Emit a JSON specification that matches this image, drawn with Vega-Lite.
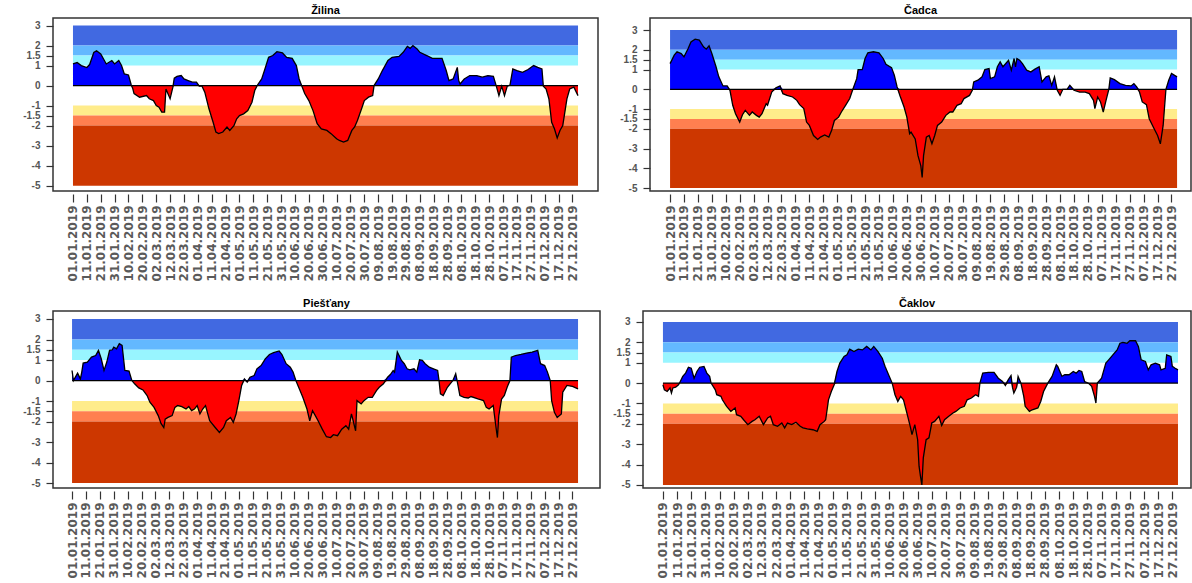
{
"$schema": "https://vega.github.io/schema/vega-lite/v6.json",
"background": "white",
"padding": {"left": 12, "top": 4, "right": 0, "bottom": 0},
"config": {
  "view": {"stroke": "#333", "strokeWidth": 1.5},
  "font": "Liberation Sans",
  "axis": {"grid": false, "domain": false, "tickColor": "#333"},
  "axisX": {"labelExpr": "timeFormat(datetime(2019,0,datum.value),'%d.%m.%Y')", "labelAngle": 270, "labelOverlap": false, "labelFlush": false, "labelBound": false, "labelFont": "DejaVu Sans", "labelFontWeight": "bold", "labelFontSize": 12, "labelColor": "#5a5a5a", "tickSize": 8, "tickWidth": 1.2, "labelPadding": 3, "offset": 3, "title": null, "minExtent": 88, "maxExtent": 88},
  "axisY": {"labelExpr": "'' + datum.value", "labelOverlap": false, "labelFlush": false, "labelBound": false, "tickSize": 7, "tickWidth": 1.2, "labelPadding": 6, "labelFontSize": 10, "labelFontWeight": "bold", "labelColor": "#555", "title": null},
  "title": {"fontSize": 11, "fontWeight": "bold", "color": "#000", "offset": 2, "font": "Liberation Sans", "anchor": "middle"}
},
"datasets": {
"bands": [
 {"cat": "extremely wet", "lo": 2, "hi": 3},
 {"cat": "very wet", "lo": 1.5, "hi": 2},
 {"cat": "moderately wet", "lo": 1, "hi": 1.5},
 {"cat": "moderately dry", "lo": -1.5, "hi": -1},
 {"cat": "severely dry", "lo": -2, "hi": -1.5},
 {"cat": "extremely dry", "lo": -5, "hi": -2}
],
"zilina": [{"d":1,"v":1.08},{"d":4,"v":1.15},{"d":7,"v":1.0},{"d":11,"v":0.9},{"d":13,"v":1.05},{"d":16,"v":1.65},{"d":18,"v":1.74},{"d":21,"v":1.58},{"d":25,"v":1.08},{"d":29,"v":1.25},{"d":31,"v":1.08},{"d":34,"v":1.25},{"d":36,"v":1.0},{"d":38,"v":0.58},{"d":41,"v":0.53},{"d":43,"v":0.03},{"d":44,"v":-0.13},{"d":45,"v":-0.4},{"d":49,"v":-0.58},{"d":54,"v":-0.5},{"d":56,"v":-0.66},{"d":59,"v":-0.75},{"d":61,"v":-1.0},{"d":63,"v":-1.08},{"d":65,"v":-1.33},{"d":67,"v":-1.33},{"d":68,"v":-0.17},{"d":70,"v":-0.5},{"d":71,"v":-0.66},{"d":73,"v":-0.08},{"d":74,"v":0.37},{"d":76,"v":0.46},{"d":79,"v":0.5},{"d":81,"v":0.33},{"d":84,"v":0.25},{"d":87,"v":0.17},{"d":90,"v":0.17},{"d":92,"v":-0.03},{"d":94,"v":-0.03},{"d":96,"v":-0.33},{"d":99,"v":-1.16},{"d":102,"v":-1.83},{"d":104,"v":-2.32},{"d":106,"v":-2.4},{"d":109,"v":-2.32},{"d":112,"v":-2.07},{"d":114,"v":-2.24},{"d":117,"v":-2.0},{"d":119,"v":-1.66},{"d":121,"v":-1.5},{"d":124,"v":-1.41},{"d":127,"v":-1.25},{"d":130,"v":-0.83},{"d":132,"v":-0.25},{"d":134,"v":0.03},{"d":137,"v":0.33},{"d":139,"v":0.75},{"d":142,"v":1.41},{"d":145,"v":1.5},{"d":148,"v":1.69},{"d":152,"v":1.63},{"d":155,"v":1.41},{"d":159,"v":1.36},{"d":162,"v":1.0},{"d":164,"v":0.33},{"d":166,"v":-0.03},{"d":168,"v":-0.4},{"d":171,"v":-0.75},{"d":174,"v":-1.25},{"d":177,"v":-1.9},{"d":180,"v":-2.16},{"d":184,"v":-2.24},{"d":187,"v":-2.4},{"d":191,"v":-2.66},{"d":193,"v":-2.74},{"d":196,"v":-2.82},{"d":199,"v":-2.74},{"d":202,"v":-2.24},{"d":204,"v":-2.07},{"d":206,"v":-1.74},{"d":209,"v":-1.16},{"d":211,"v":-0.75},{"d":214,"v":-0.58},{"d":217,"v":-0.5},{"d":218,"v":0.0},{"d":221,"v":0.33},{"d":224,"v":0.75},{"d":228,"v":1.25},{"d":231,"v":1.41},{"d":236,"v":1.46},{"d":239,"v":1.66},{"d":242,"v":1.96},{"d":244,"v":1.86},{"d":246,"v":2.0},{"d":249,"v":1.83},{"d":251,"v":1.66},{"d":256,"v":1.5},{"d":260,"v":1.36},{"d":265,"v":1.36},{"d":267,"v":1.36},{"d":270,"v":0.75},{"d":272,"v":0.25},{"d":275,"v":0.33},{"d":278,"v":0.91},{"d":279,"v":0.25},{"d":280,"v":0.08},{"d":283,"v":0.33},{"d":287,"v":0.5},{"d":292,"v":0.5},{"d":296,"v":0.42},{"d":300,"v":0.5},{"d":304,"v":0.46},{"d":306,"v":0.0},{"d":308,"v":-0.5},{"d":310,"v":-0.03},{"d":312,"v":-0.5},{"d":314,"v":-0.03},{"d":316,"v":0.03},{"d":318,"v":0.83},{"d":321,"v":0.75},{"d":325,"v":0.66},{"d":329,"v":0.8},{"d":333,"v":1.0},{"d":336,"v":0.91},{"d":339,"v":0.83},{"d":340,"v":-0.03},{"d":342,"v":-0.17},{"d":344,"v":-0.66},{"d":346,"v":-1.83},{"d":348,"v":-2.16},{"d":350,"v":-2.62},{"d":352,"v":-2.24},{"d":354,"v":-2.0},{"d":357,"v":-0.66},{"d":359,"v":-0.17},{"d":362,"v":-0.08},{"d":365,"v":-0.5}],
"cadca": [{"d":1,"v":1.3},{"d":4,"v":1.73},{"d":6,"v":1.9},{"d":9,"v":1.81},{"d":11,"v":1.64},{"d":14,"v":2.07},{"d":16,"v":2.4},{"d":19,"v":2.54},{"d":22,"v":2.49},{"d":25,"v":2.15},{"d":27,"v":2.03},{"d":29,"v":2.2},{"d":31,"v":1.81},{"d":34,"v":1.14},{"d":36,"v":0.63},{"d":39,"v":0.17},{"d":42,"v":0.17},{"d":44,"v":-0.05},{"d":46,"v":-0.81},{"d":48,"v":-1.24},{"d":51,"v":-1.66},{"d":53,"v":-1.29},{"d":55,"v":-1.07},{"d":58,"v":-1.32},{"d":60,"v":-1.15},{"d":63,"v":-1.32},{"d":65,"v":-1.41},{"d":67,"v":-1.24},{"d":70,"v":-0.73},{"d":71,"v":-0.81},{"d":74,"v":-0.14},{"d":77,"v":0.07},{"d":80,"v":0.17},{"d":82,"v":-0.22},{"d":85,"v":-0.31},{"d":89,"v":-0.39},{"d":92,"v":-0.56},{"d":94,"v":-0.78},{"d":97,"v":-0.98},{"d":99,"v":-1.66},{"d":101,"v":-1.83},{"d":104,"v":-2.34},{"d":107,"v":-2.54},{"d":109,"v":-2.42},{"d":112,"v":-2.31},{"d":115,"v":-2.42},{"d":117,"v":-2.08},{"d":119,"v":-1.58},{"d":122,"v":-1.41},{"d":124,"v":-1.15},{"d":127,"v":-0.81},{"d":130,"v":-0.47},{"d":132,"v":-0.05},{"d":135,"v":0.54},{"d":136,"v":1.0},{"d":139,"v":1.0},{"d":141,"v":1.56},{"d":143,"v":1.85},{"d":147,"v":1.9},{"d":151,"v":1.85},{"d":154,"v":1.56},{"d":156,"v":1.27},{"d":160,"v":1.1},{"d":162,"v":0.71},{"d":164,"v":0.12},{"d":166,"v":-0.31},{"d":169,"v":-0.9},{"d":171,"v":-1.41},{"d":173,"v":-2.25},{"d":174,"v":-2.17},{"d":177,"v":-2.51},{"d":179,"v":-3.36},{"d":181,"v":-3.86},{"d":182,"v":-4.46},{"d":183,"v":-3.36},{"d":185,"v":-2.42},{"d":187,"v":-2.34},{"d":189,"v":-2.76},{"d":191,"v":-2.34},{"d":193,"v":-1.83},{"d":196,"v":-1.66},{"d":199,"v":-1.32},{"d":202,"v":-1.15},{"d":204,"v":-1.15},{"d":207,"v":-0.81},{"d":210,"v":-0.73},{"d":212,"v":-0.47},{"d":216,"v":-0.31},{"d":218,"v":-0.05},{"d":219,"v":0.37},{"d":222,"v":0.46},{"d":225,"v":0.63},{"d":227,"v":1.0},{"d":230,"v":1.05},{"d":231,"v":0.54},{"d":234,"v":0.63},{"d":236,"v":1.14},{"d":238,"v":1.39},{"d":240,"v":1.14},{"d":244,"v":1.47},{"d":246,"v":0.97},{"d":248,"v":1.56},{"d":249,"v":1.14},{"d":250,"v":1.56},{"d":252,"v":1.47},{"d":254,"v":1.3},{"d":257,"v":0.97},{"d":260,"v":0.88},{"d":263,"v":1.02},{"d":266,"v":1.14},{"d":268,"v":0.37},{"d":271,"v":0.63},{"d":273,"v":0.68},{"d":275,"v":0.2},{"d":277,"v":0.63},{"d":279,"v":-0.05},{"d":281,"v":-0.31},{"d":283,"v":0.0},{"d":286,"v":0.0},{"d":288,"v":0.2},{"d":291,"v":-0.05},{"d":295,"v":-0.14},{"d":299,"v":-0.14},{"d":302,"v":-0.22},{"d":305,"v":-0.56},{"d":306,"v":-0.98},{"d":308,"v":-0.39},{"d":310,"v":-0.64},{"d":312,"v":-1.15},{"d":314,"v":-0.56},{"d":316,"v":0.0},{"d":317,"v":0.58},{"d":320,"v":0.49},{"d":324,"v":0.29},{"d":328,"v":0.2},{"d":332,"v":0.17},{"d":334,"v":0.29},{"d":336,"v":0.12},{"d":338,"v":-0.14},{"d":340,"v":-0.64},{"d":343,"v":-0.78},{"d":345,"v":-1.49},{"d":348,"v":-1.92},{"d":351,"v":-2.34},{"d":353,"v":-2.76},{"d":355,"v":-1.83},{"d":357,"v":0.0},{"d":359,"v":0.46},{"d":361,"v":0.8},{"d":365,"v":0.63}],
"piestany": [{"d":1,"v":0.49},{"d":2,"v":0.0},{"d":4,"v":0.24},{"d":5,"v":0.36},{"d":7,"v":0.08},{"d":8,"v":0.41},{"d":9,"v":0.85},{"d":12,"v":0.9},{"d":15,"v":1.14},{"d":18,"v":1.22},{"d":20,"v":1.47},{"d":22,"v":1.06},{"d":24,"v":0.49},{"d":26,"v":0.9},{"d":28,"v":1.47},{"d":30,"v":1.5},{"d":31,"v":1.63},{"d":33,"v":1.55},{"d":35,"v":1.8},{"d":37,"v":1.71},{"d":39,"v":0.49},{"d":42,"v":0.46},{"d":44,"v":0.0},{"d":46,"v":-0.16},{"d":49,"v":-0.36},{"d":52,"v":-0.46},{"d":55,"v":-0.73},{"d":57,"v":-1.06},{"d":60,"v":-1.31},{"d":63,"v":-1.71},{"d":65,"v":-2.09},{"d":67,"v":-2.29},{"d":68,"v":-1.88},{"d":70,"v":-1.8},{"d":73,"v":-1.71},{"d":75,"v":-1.31},{"d":77,"v":-1.22},{"d":80,"v":-1.27},{"d":83,"v":-1.39},{"d":85,"v":-1.27},{"d":87,"v":-1.47},{"d":89,"v":-1.39},{"d":91,"v":-1.22},{"d":93,"v":-1.63},{"d":95,"v":-1.39},{"d":97,"v":-1.22},{"d":100,"v":-1.96},{"d":101,"v":-2.04},{"d":104,"v":-2.29},{"d":107,"v":-2.53},{"d":110,"v":-2.29},{"d":112,"v":-1.96},{"d":115,"v":-1.8},{"d":117,"v":-2.04},{"d":119,"v":-1.63},{"d":121,"v":-0.98},{"d":123,"v":-0.24},{"d":125,"v":0.08},{"d":127,"v":-0.08},{"d":129,"v":0.16},{"d":132,"v":0.24},{"d":134,"v":0.57},{"d":137,"v":0.73},{"d":140,"v":1.06},{"d":143,"v":1.27},{"d":146,"v":1.36},{"d":150,"v":1.44},{"d":152,"v":1.27},{"d":155,"v":0.82},{"d":158,"v":0.65},{"d":160,"v":0.41},{"d":162,"v":0.0},{"d":165,"v":-0.49},{"d":167,"v":-0.82},{"d":170,"v":-1.39},{"d":172,"v":-1.96},{"d":174,"v":-1.47},{"d":176,"v":-1.71},{"d":178,"v":-1.96},{"d":181,"v":-2.37},{"d":184,"v":-2.74},{"d":187,"v":-2.78},{"d":189,"v":-2.64},{"d":192,"v":-2.69},{"d":195,"v":-2.37},{"d":198,"v":-2.2},{"d":200,"v":-2.37},{"d":202,"v":-1.63},{"d":205,"v":-2.45},{"d":206,"v":-0.98},{"d":209,"v":-1.14},{"d":211,"v":-0.98},{"d":214,"v":-0.82},{"d":217,"v":-0.82},{"d":220,"v":-0.49},{"d":222,"v":-0.33},{"d":225,"v":-0.16},{"d":228,"v":0.16},{"d":230,"v":0.29},{"d":232,"v":0.49},{"d":233,"v":0.41},{"d":235,"v":1.39},{"d":238,"v":0.98},{"d":240,"v":0.82},{"d":242,"v":0.57},{"d":244,"v":0.52},{"d":247,"v":0.57},{"d":249,"v":0.41},{"d":251,"v":1.01},{"d":253,"v":0.98},{"d":255,"v":0.82},{"d":258,"v":0.65},{"d":261,"v":0.57},{"d":264,"v":0.49},{"d":265,"v":0.0},{"d":266,"v":-0.65},{"d":268,"v":-0.73},{"d":271,"v":-0.33},{"d":273,"v":-0.16},{"d":275,"v":0.0},{"d":277,"v":0.33},{"d":278,"v":0.0},{"d":280,"v":-0.73},{"d":283,"v":-0.82},{"d":286,"v":-0.85},{"d":288,"v":-0.78},{"d":293,"v":-0.9},{"d":297,"v":-0.98},{"d":299,"v":-1.31},{"d":301,"v":-1.39},{"d":304,"v":-1.22},{"d":306,"v":-2.29},{"d":307,"v":-2.78},{"d":308,"v":-1.71},{"d":310,"v":-0.9},{"d":312,"v":-0.73},{"d":314,"v":-0.33},{"d":316,"v":0.0},{"d":317,"v":1.14},{"d":320,"v":1.22},{"d":324,"v":1.27},{"d":328,"v":1.34},{"d":332,"v":1.39},{"d":336,"v":1.47},{"d":338,"v":0.82},{"d":341,"v":0.73},{"d":343,"v":0.41},{"d":345,"v":0.0},{"d":346,"v":-0.98},{"d":348,"v":-1.55},{"d":350,"v":-1.8},{"d":353,"v":-1.63},{"d":354,"v":-0.57},{"d":357,"v":-0.24},{"d":361,"v":-0.29},{"d":365,"v":-0.41}],
"caklov": [{"d":1,"v":-0.08},{"d":2,"v":-0.33},{"d":4,"v":-0.41},{"d":6,"v":-0.24},{"d":7,"v":-0.49},{"d":8,"v":-0.24},{"d":10,"v":-0.2},{"d":12,"v":-0.08},{"d":13,"v":0.04},{"d":15,"v":0.33},{"d":17,"v":0.49},{"d":19,"v":0.78},{"d":21,"v":0.73},{"d":23,"v":0.24},{"d":25,"v":0.57},{"d":27,"v":0.78},{"d":30,"v":0.82},{"d":32,"v":0.49},{"d":34,"v":0.33},{"d":35,"v":0.0},{"d":38,"v":-0.33},{"d":39,"v":-0.57},{"d":42,"v":-0.65},{"d":43,"v":-0.82},{"d":46,"v":-1.14},{"d":49,"v":-1.39},{"d":52,"v":-1.22},{"d":53,"v":-1.55},{"d":56,"v":-1.63},{"d":58,"v":-1.8},{"d":61,"v":-2.04},{"d":64,"v":-1.88},{"d":66,"v":-1.8},{"d":69,"v":-1.63},{"d":72,"v":-2.04},{"d":75,"v":-1.71},{"d":77,"v":-1.63},{"d":79,"v":-2.04},{"d":82,"v":-2.12},{"d":85,"v":-1.96},{"d":87,"v":-2.2},{"d":89,"v":-1.96},{"d":92,"v":-2.04},{"d":95,"v":-1.92},{"d":98,"v":-2.12},{"d":100,"v":-2.2},{"d":103,"v":-2.25},{"d":107,"v":-2.29},{"d":110,"v":-2.37},{"d":112,"v":-2.04},{"d":115,"v":-1.88},{"d":116,"v":-1.8},{"d":118,"v":-0.82},{"d":120,"v":-0.41},{"d":122,"v":-0.08},{"d":124,"v":0.57},{"d":126,"v":0.98},{"d":129,"v":1.31},{"d":131,"v":1.39},{"d":133,"v":1.67},{"d":136,"v":1.55},{"d":139,"v":1.67},{"d":142,"v":1.63},{"d":145,"v":1.8},{"d":148,"v":1.63},{"d":150,"v":1.8},{"d":153,"v":1.55},{"d":156,"v":1.22},{"d":158,"v":0.82},{"d":161,"v":0.33},{"d":163,"v":0.0},{"d":165,"v":-0.57},{"d":167,"v":-0.9},{"d":169,"v":-0.65},{"d":171,"v":-0.82},{"d":174,"v":-1.63},{"d":176,"v":-2.2},{"d":177,"v":-2.53},{"d":179,"v":-2.04},{"d":181,"v":-2.78},{"d":182,"v":-4.08},{"d":183,"v":-4.57},{"d":184,"v":-5.0},{"d":185,"v":-3.67},{"d":187,"v":-2.78},{"d":189,"v":-2.69},{"d":191,"v":-1.96},{"d":193,"v":-1.88},{"d":196,"v":-1.63},{"d":198,"v":-2.08},{"d":200,"v":-1.8},{"d":203,"v":-1.63},{"d":206,"v":-1.47},{"d":208,"v":-1.39},{"d":211,"v":-1.22},{"d":214,"v":-1.14},{"d":216,"v":-0.82},{"d":219,"v":-0.73},{"d":222,"v":-0.57},{"d":224,"v":-0.65},{"d":225,"v":0.0},{"d":227,"v":0.49},{"d":231,"v":0.53},{"d":235,"v":0.53},{"d":238,"v":0.24},{"d":241,"v":0.08},{"d":243,"v":-0.12},{"d":245,"v":0.16},{"d":247,"v":0.37},{"d":248,"v":-0.2},{"d":249,"v":-0.49},{"d":251,"v":-0.2},{"d":252,"v":0.33},{"d":254,"v":0.0},{"d":256,"v":-0.65},{"d":257,"v":-1.14},{"d":260,"v":-1.39},{"d":262,"v":-1.31},{"d":266,"v":-1.22},{"d":268,"v":-0.9},{"d":270,"v":-0.41},{"d":273,"v":0.0},{"d":276,"v":0.33},{"d":279,"v":0.9},{"d":280,"v":0.82},{"d":283,"v":0.33},{"d":285,"v":0.41},{"d":288,"v":0.41},{"d":291,"v":0.57},{"d":293,"v":0.49},{"d":295,"v":0.62},{"d":297,"v":0.57},{"d":299,"v":0.08},{"d":302,"v":-0.02},{"d":304,"v":-0.16},{"d":306,"v":-0.65},{"d":307,"v":-0.98},{"d":308,"v":0.0},{"d":311,"v":0.24},{"d":314,"v":0.98},{"d":316,"v":1.14},{"d":319,"v":1.39},{"d":322,"v":1.63},{"d":324,"v":1.96},{"d":326,"v":2.0},{"d":329,"v":1.96},{"d":331,"v":2.08},{"d":335,"v":2.08},{"d":337,"v":1.8},{"d":339,"v":1.14},{"d":342,"v":1.06},{"d":344,"v":0.65},{"d":346,"v":0.9},{"d":349,"v":0.98},{"d":352,"v":0.9},{"d":353,"v":0.65},{"d":356,"v":0.73},{"d":357,"v":1.39},{"d":360,"v":1.31},{"d":361,"v":0.82},{"d":363,"v":0.73},{"d":365,"v":0.65}]
},
"spacing": 14,
"vconcat": [
{"spacing": 10, "hconcat": [
 {"title": "Žilina", "width": 545, "height": 173,
  "resolve": {"scale": {"y": "independent"}, "axis": {"x": "independent"}},
  "layer": [
   {"data": {"name": "bands"}, "mark": {"type": "rect"},
    "encoding": {
     "x": {"datum": 1, "type": "quantitative", "scale": {"domain": [-13.4, 379.4], "nice": false, "zero": false}, "axis": null},
     "x2": {"datum": 365},
     "y": {"field": "hi", "type": "quantitative", "scale": {"domain": [-5.265, 3.375], "nice": false, "zero": false}, "axis": {"values": [3,2,1.5,1,0,-1,-1.5,-2,-3,-4,-5], "minExtent": 40, "maxExtent": 40}},
     "y2": {"field": "lo"},
     "color": {"field": "cat", "type": "nominal", "legend": null, "scale": {"domain": ["extremely wet","very wet","moderately wet","moderately dry","severely dry","extremely dry"], "range": ["#4169E1","#63B8FF","#98F5FF","#FFEC8B","#FF7F50","#CD3700"]}}
    }},
   {"data": {"name": "zilina"}, "mark": {"type": "area", "color": "#0000FF"},
    "encoding": {"x": {"field": "d", "type": "quantitative", "axis": null},
     "y": {"field": "v", "type": "quantitative", "scale": {"domain": [0, 3.375], "range": [67.58, 0], "clamp": true, "nice": false, "zero": false}, "axis": null},
     "y2": {"datum": 0}}},
   {"data": {"name": "zilina"}, "mark": {"type": "area", "color": "#FF0000"},
    "encoding": {"x": {"field": "d", "type": "quantitative", "axis": null},
     "y": {"field": "v", "type": "quantitative", "scale": {"domain": [-5.265, 0], "range": [173, 67.58], "clamp": true, "nice": false, "zero": false}, "axis": null},
     "y2": {"datum": 0}}},
   {"data": {"name": "zilina"}, "mark": {"type": "line", "color": "#000", "strokeWidth": 1.3},
    "encoding": {"x": {"field": "d", "type": "quantitative", "axis": {"values": [1,11,21,31,41,51,61,71,81,91,101,111,121,131,141,151,161,171,181,191,201,211,221,231,241,251,261,271,281,291,301,311,321,331,341,351,361]}},
     "y": {"field": "v", "type": "quantitative", "scale": {"domain": [-5.265, 3.375], "nice": false, "zero": false}, "axis": null}}},
   {"data": {"values": [{}]}, "mark": {"type": "rule", "color": "#000", "strokeWidth": 1.3},
    "encoding": {"x": {"datum": 1, "type": "quantitative", "axis": null}, "x2": {"datum": 365},
     "y": {"datum": 0, "type": "quantitative", "scale": {"domain": [-5.265, 3.375], "nice": false, "zero": false}, "axis": null}}}
  ]},
 {"title": "Čadca", "width": 541, "height": 173,
  "resolve": {"scale": {"y": "independent"}, "axis": {"x": "independent"}},
  "layer": [
   {"data": {"name": "bands"}, "mark": {"type": "rect"},
    "encoding": {
     "x": {"datum": 1, "type": "quantitative", "scale": {"domain": [-13.4, 375], "nice": false, "zero": false}, "axis": null},
     "x2": {"datum": 365},
     "y": {"field": "hi", "type": "quantitative", "scale": {"domain": [-5.15, 3.61], "nice": false, "zero": false}, "axis": {"values": [3,2,1.5,1,0,-1,-1.5,-2,-3,-4,-5], "minExtent": 40, "maxExtent": 40}},
     "y2": {"field": "lo"},
     "color": {"field": "cat", "type": "nominal", "legend": null, "scale": {"domain": ["extremely wet","very wet","moderately wet","moderately dry","severely dry","extremely dry"], "range": ["#4169E1","#63B8FF","#98F5FF","#FFEC8B","#FF7F50","#CD3700"]}}
    }},
   {"data": {"name": "cadca"}, "mark": {"type": "area", "color": "#0000FF"},
    "encoding": {"x": {"field": "d", "type": "quantitative", "axis": null},
     "y": {"field": "v", "type": "quantitative", "scale": {"domain": [0, 3.61], "range": [71.29, 0], "clamp": true, "nice": false, "zero": false}, "axis": null},
     "y2": {"datum": 0}}},
   {"data": {"name": "cadca"}, "mark": {"type": "area", "color": "#FF0000"},
    "encoding": {"x": {"field": "d", "type": "quantitative", "axis": null},
     "y": {"field": "v", "type": "quantitative", "scale": {"domain": [-5.15, 0], "range": [173, 71.29], "clamp": true, "nice": false, "zero": false}, "axis": null},
     "y2": {"datum": 0}}},
   {"data": {"name": "cadca"}, "mark": {"type": "line", "color": "#000", "strokeWidth": 1.3},
    "encoding": {"x": {"field": "d", "type": "quantitative", "axis": {"values": [1,11,21,31,41,51,61,71,81,91,101,111,121,131,141,151,161,171,181,191,201,211,221,231,241,251,261,271,281,291,301,311,321,331,341,351,361]}},
     "y": {"field": "v", "type": "quantitative", "scale": {"domain": [-5.15, 3.61], "nice": false, "zero": false}, "axis": null}}},
   {"data": {"values": [{}]}, "mark": {"type": "rule", "color": "#000", "strokeWidth": 1.3},
    "encoding": {"x": {"datum": 1, "type": "quantitative", "axis": null}, "x2": {"datum": 365},
     "y": {"datum": 0, "type": "quantitative", "scale": {"domain": [-5.15, 3.61], "nice": false, "zero": false}, "axis": null}}}
  ]}
]},
{"spacing": 3, "hconcat": [
 {"title": "Piešťany", "width": 547, "height": 177,
  "resolve": {"scale": {"y": "independent"}, "axis": {"x": "independent"}},
  "layer": [
   {"data": {"name": "bands"}, "mark": {"type": "rect"},
    "encoding": {
     "x": {"datum": 1, "type": "quantitative", "scale": {"domain": [-12.7, 380.8], "nice": false, "zero": false}, "axis": null},
     "x2": {"datum": 365},
     "y": {"field": "hi", "type": "quantitative", "scale": {"domain": [-5.24, 3.39], "nice": false, "zero": false}, "axis": {"values": [3,2,1.5,1,0,-1,-1.5,-2,-3,-4,-5], "minExtent": 38, "maxExtent": 38}},
     "y2": {"field": "lo"},
     "color": {"field": "cat", "type": "nominal", "legend": null, "scale": {"domain": ["extremely wet","very wet","moderately wet","moderately dry","severely dry","extremely dry"], "range": ["#4169E1","#63B8FF","#98F5FF","#FFEC8B","#FF7F50","#CD3700"]}}
    }},
   {"data": {"name": "piestany"}, "mark": {"type": "area", "color": "#0000FF"},
    "encoding": {"x": {"field": "d", "type": "quantitative", "axis": null},
     "y": {"field": "v", "type": "quantitative", "scale": {"domain": [0, 3.39], "range": [69.53, 0], "clamp": true, "nice": false, "zero": false}, "axis": null},
     "y2": {"datum": 0}}},
   {"data": {"name": "piestany"}, "mark": {"type": "area", "color": "#FF0000"},
    "encoding": {"x": {"field": "d", "type": "quantitative", "axis": null},
     "y": {"field": "v", "type": "quantitative", "scale": {"domain": [-5.24, 0], "range": [177, 69.53], "clamp": true, "nice": false, "zero": false}, "axis": null},
     "y2": {"datum": 0}}},
   {"data": {"name": "piestany"}, "mark": {"type": "line", "color": "#000", "strokeWidth": 1.3},
    "encoding": {"x": {"field": "d", "type": "quantitative", "axis": {"values": [1,11,21,31,41,51,61,71,81,91,101,111,121,131,141,151,161,171,181,191,201,211,221,231,241,251,261,271,281,291,301,311,321,331,341,351,361]}},
     "y": {"field": "v", "type": "quantitative", "scale": {"domain": [-5.24, 3.39], "nice": false, "zero": false}, "axis": null}}},
   {"data": {"values": [{}]}, "mark": {"type": "rule", "color": "#000", "strokeWidth": 1.3},
    "encoding": {"x": {"datum": 1, "type": "quantitative", "axis": null}, "x2": {"datum": 365},
     "y": {"datum": 0, "type": "quantitative", "scale": {"domain": [-5.24, 3.39], "nice": false, "zero": false}, "axis": null}}}
  ]},
 {"title": "Čaklov", "width": 548, "height": 177,
  "resolve": {"scale": {"y": "independent"}, "axis": {"x": "independent"}},
  "layer": [
   {"data": {"name": "bands"}, "mark": {"type": "rect"},
    "encoding": {
     "x": {"datum": 1, "type": "quantitative", "scale": {"domain": [-13.1, 374.2], "nice": false, "zero": false}, "axis": null},
     "x2": {"datum": 365},
     "y": {"field": "hi", "type": "quantitative", "scale": {"domain": [-5.15, 3.54], "nice": false, "zero": false}, "axis": {"values": [3,2,1.5,1,0,-1,-1.5,-2,-3,-4,-5], "minExtent": 38, "maxExtent": 38}},
     "y2": {"field": "lo"},
     "color": {"field": "cat", "type": "nominal", "legend": null, "scale": {"domain": ["extremely wet","very wet","moderately wet","moderately dry","severely dry","extremely dry"], "range": ["#4169E1","#63B8FF","#98F5FF","#FFEC8B","#FF7F50","#CD3700"]}}
    }},
   {"data": {"name": "caklov"}, "mark": {"type": "area", "color": "#0000FF"},
    "encoding": {"x": {"field": "d", "type": "quantitative", "axis": null},
     "y": {"field": "v", "type": "quantitative", "scale": {"domain": [0, 3.54], "range": [72.1, 0], "clamp": true, "nice": false, "zero": false}, "axis": null},
     "y2": {"datum": 0}}},
   {"data": {"name": "caklov"}, "mark": {"type": "area", "color": "#FF0000"},
    "encoding": {"x": {"field": "d", "type": "quantitative", "axis": null},
     "y": {"field": "v", "type": "quantitative", "scale": {"domain": [-5.15, 0], "range": [177, 72.1], "clamp": true, "nice": false, "zero": false}, "axis": null},
     "y2": {"datum": 0}}},
   {"data": {"name": "caklov"}, "mark": {"type": "line", "color": "#000", "strokeWidth": 1.3},
    "encoding": {"x": {"field": "d", "type": "quantitative", "axis": {"values": [1,11,21,31,41,51,61,71,81,91,101,111,121,131,141,151,161,171,181,191,201,211,221,231,241,251,261,271,281,291,301,311,321,331,341,351,361]}},
     "y": {"field": "v", "type": "quantitative", "scale": {"domain": [-5.15, 3.54], "nice": false, "zero": false}, "axis": null}}},
   {"data": {"values": [{}]}, "mark": {"type": "rule", "color": "#000", "strokeWidth": 1.3},
    "encoding": {"x": {"datum": 1, "type": "quantitative", "axis": null}, "x2": {"datum": 365},
     "y": {"datum": 0, "type": "quantitative", "scale": {"domain": [-5.15, 3.54], "nice": false, "zero": false}, "axis": null}}}
  ]}
]}
]
}
